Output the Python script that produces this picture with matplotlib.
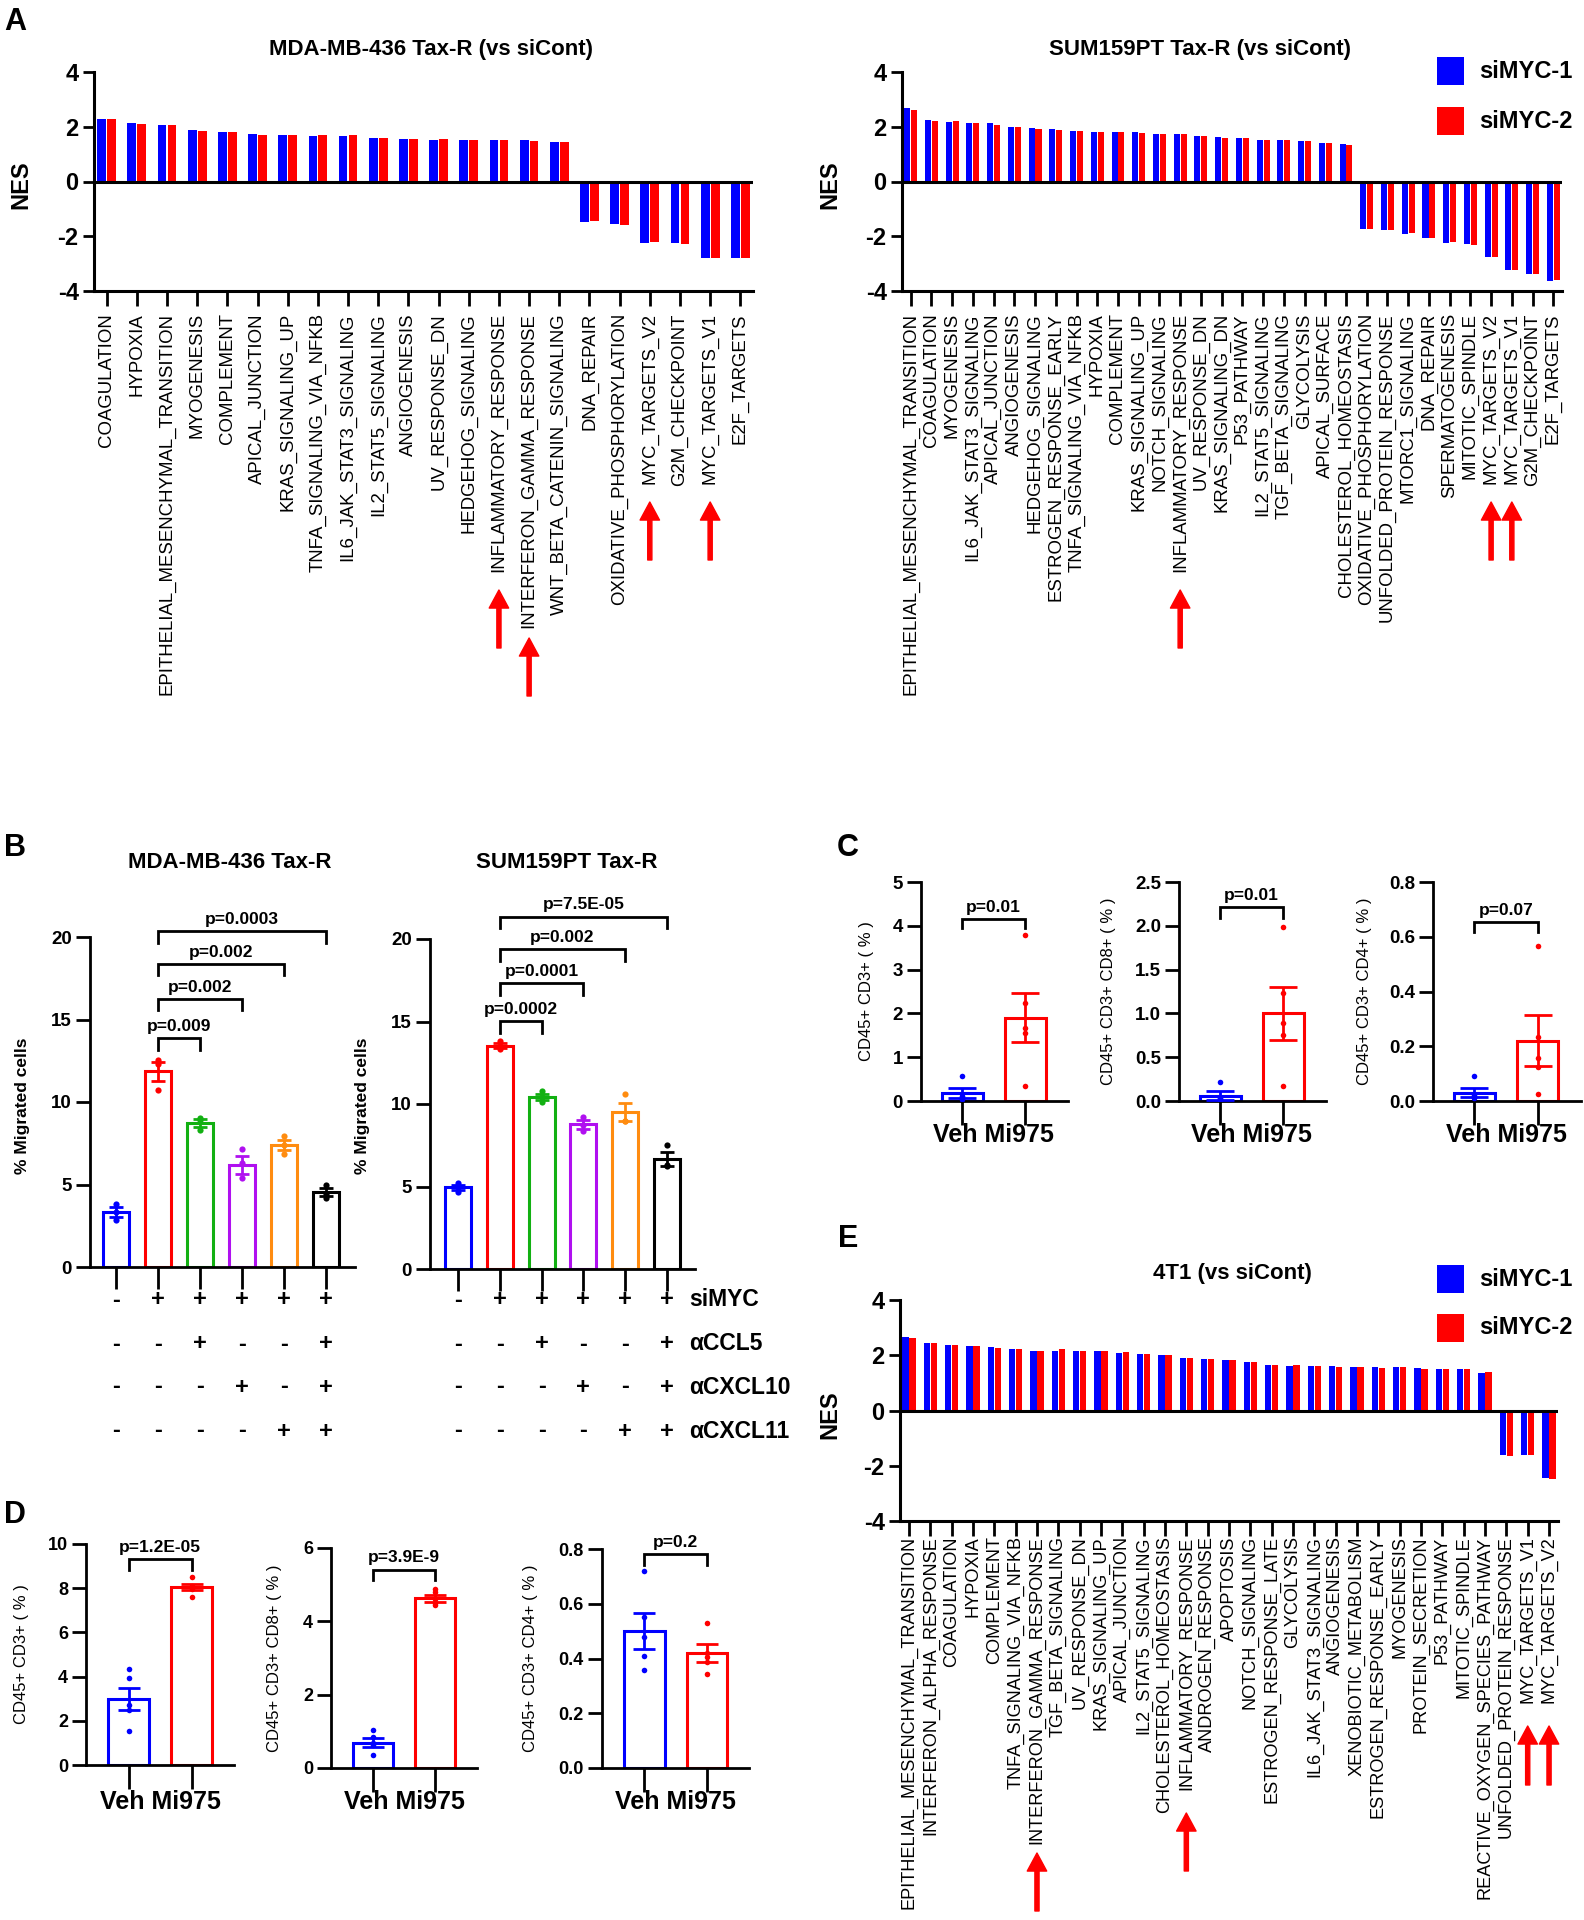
import matplotlib
matplotlib.use('Agg')
import matplotlib.pyplot as plt
import numpy as np
from matplotlib.transforms import blended_transform_factory as btf
from matplotlib.patches import Rectangle
from matplotlib import font_manager

plt.rcParams['font.family'] = ['Liberation Sans', 'DejaVu Sans']
_names = {f.name for f in font_manager.fontManager.ttflist}
NARROW = 'Liberation Sans Narrow' if 'Liberation Sans Narrow' in _names else 'Liberation Sans'

W, H = 1584, 1920
BLUE, RED = '#0000ff', '#ff0000'

# ---------------- Panel A data ----------------
mda_cats = ['COAGULATION', 'HYPOXIA', 'EPITHELIAL_MESENCHYMAL_TRANSITION', 'MYOGENESIS', 'COMPLEMENT',
            'APICAL_JUNCTION', 'KRAS_SIGNALING_UP', 'TNFA_SIGNALING_VIA_NFKB', 'IL6_JAK_STAT3_SIGNALING',
            'IL2_STAT5_SIGNALING', 'ANGIOGENESIS', 'UV_RESPONSE_DN', 'HEDGEHOG_SIGNALING',
            'INFLAMMATORY_RESPONSE', 'INTERFERON_GAMMA_RESPONSE', 'WNT_BETA_CATENIN_SIGNALING',
            'DNA_REPAIR', 'OXIDATIVE_PHOSPHORYLATION', 'MYC_TARGETS_V2', 'G2M_CHECKPOINT',
            'MYC_TARGETS_V1', 'E2F_TARGETS']
mda_si1 = [2.28, 2.12, 2.05, 1.88, 1.80, 1.72, 1.70, 1.67, 1.67, 1.58, 1.55, 1.53, 1.53, 1.50, 1.50, 1.46,
           -1.48, -1.55, -2.24, -2.24, -2.80, -2.80]
mda_si2 = [2.28, 2.10, 2.05, 1.85, 1.80, 1.70, 1.70, 1.70, 1.70, 1.58, 1.55, 1.55, 1.53, 1.50, 1.48, 1.46,
           -1.45, -1.58, -2.20, -2.28, -2.80, -2.80]
mda_arrows = ['INFLAMMATORY_RESPONSE', 'INTERFERON_GAMMA_RESPONSE', 'MYC_TARGETS_V2', 'MYC_TARGETS_V1']

sum_cats = ['EPITHELIAL_MESENCHYMAL_TRANSITION', 'COAGULATION', 'MYOGENESIS', 'IL6_JAK_STAT3_SIGNALING',
            'APICAL_JUNCTION', 'ANGIOGENESIS', 'HEDGEHOG_SIGNALING', 'ESTROGEN_RESPONSE_EARLY',
            'TNFA_SIGNALING_VIA_NFKB', 'HYPOXIA', 'COMPLEMENT', 'KRAS_SIGNALING_UP', 'NOTCH_SIGNALING',
            'INFLAMMATORY_RESPONSE', 'UV_RESPONSE_DN', 'KRAS_SIGNALING_DN', 'P53_PATHWAY',
            'IL2_STAT5_SIGNALING', 'TGF_BETA_SIGNALING', 'GLYCOLYSIS', 'APICAL_SURFACE',
            'CHOLESTEROL_HOMEOSTASIS', 'OXIDATIVE_PHOSPHORYLATION', 'UNFOLDED_PROTEIN_RESPONSE',
            'MTORC1_SIGNALING', 'DNA_REPAIR', 'SPERMATOGENESIS', 'MITOTIC_SPINDLE', 'MYC_TARGETS_V2',
            'MYC_TARGETS_V1', 'G2M_CHECKPOINT', 'E2F_TARGETS']
sum_si1 = [2.67, 2.25, 2.17, 2.12, 2.12, 2.00, 1.95, 1.92, 1.83, 1.82, 1.82, 1.82, 1.72, 1.72, 1.65, 1.62,
           1.58, 1.53, 1.53, 1.47, 1.42, 1.37, -1.75, -1.78, -1.92, -2.08, -2.25, -2.28, -2.75, -3.25,
           -3.37, -3.62]
sum_si2 = [2.63, 2.22, 2.20, 2.13, 2.08, 2.00, 1.92, 1.88, 1.83, 1.82, 1.82, 1.78, 1.72, 1.72, 1.65, 1.58,
           1.58, 1.53, 1.50, 1.47, 1.42, 1.33, -1.75, -1.78, -1.88, -2.08, -2.20, -2.32, -2.75, -3.22,
           -3.37, -3.58]
sum_arrows = ['INFLAMMATORY_RESPONSE', 'MYC_TARGETS_V2', 'MYC_TARGETS_V1']

# ---------------- Panel E data ----------------
t41_cats = ['EPITHELIAL_MESENCHYMAL_TRANSITION', 'INTERFERON_ALPHA_RESPONSE', 'COAGULATION', 'HYPOXIA',
            'COMPLEMENT', 'TNFA_SIGNALING_VIA_NFKB', 'INTERFERON_GAMMA_RESPONSE', 'TGF_BETA_SIGNALING',
            'UV_RESPONSE_DN', 'KRAS_SIGNALING_UP', 'APICAL_JUNCTION', 'IL2_STAT5_SIGNALING',
            'CHOLESTEROL_HOMEOSTASIS', 'INFLAMMATORY_RESPONSE', 'ANDROGEN_RESPONSE', 'APOPTOSIS',
            'NOTCH_SIGNALING', 'ESTROGEN_RESPONSE_LATE', 'GLYCOLYSIS', 'IL6_JAK_STAT3_SIGNALING',
            'ANGIOGENESIS', 'XENOBIOTIC_METABOLISM', 'ESTROGEN_RESPONSE_EARLY', 'MYOGENESIS',
            'PROTEIN_SECRETION', 'P53_PATHWAY', 'MITOTIC_SPINDLE', 'REACTIVE_OXYGEN_SPECIES_PATHWAY',
            'UNFOLDED_PROTEIN_RESPONSE', 'MYC_TARGETS_V1', 'MYC_TARGETS_V2']
t41_si1 = [2.67, 2.45, 2.37, 2.32, 2.29, 2.21, 2.16, 2.16, 2.14, 2.14, 2.08, 2.05, 2.00, 1.89, 1.86, 1.82,
           1.76, 1.65, 1.62, 1.60, 1.60, 1.58, 1.58, 1.57, 1.54, 1.50, 1.49, 1.36, -1.60, -1.60, -2.43]
t41_si2 = [2.64, 2.45, 2.37, 2.32, 2.26, 2.21, 2.16, 2.21, 2.16, 2.14, 2.11, 2.05, 2.00, 1.89, 1.86, 1.81,
           1.74, 1.65, 1.63, 1.60, 1.58, 1.58, 1.54, 1.57, 1.50, 1.52, 1.49, 1.39, -1.63, -1.60, -2.48]
t41_arrows = ['INTERFERON_GAMMA_RESPONSE', 'INFLAMMATORY_RESPONSE', 'MYC_TARGETS_V1', 'MYC_TARGETS_V2']

# ---------------- Panel B data ----------------
mig_colors = ['#0000ff', '#ff0000', '#12b012', '#b010f0', '#ff8c10', '#000000']
mda_mig_mean = [3.35, 11.85, 8.74, 6.20, 7.38, 4.53]
mda_mig_sem = [0.29, 0.58, 0.23, 0.55, 0.31, 0.24]
mda_mig_pts = [[3.84, 3.35, 2.85], [12.57, 12.30, 10.70], [9.03, 8.90, 8.29],
               [7.18, 6.30, 5.40], [7.92, 7.40, 6.86], [5.00, 4.40, 4.20]]
mda_mig_p = [(1, 2, 13.86, 'p=0.009'), (1, 3, 16.26, 'p=0.002'), (1, 4, 18.37, 'p=0.002'),
             (1, 5, 20.35, 'p=0.0003')]
sum_mig_mean = [4.95, 13.54, 10.45, 8.76, 9.50, 6.68]
sum_mig_sem = [0.16, 0.13, 0.18, 0.25, 0.55, 0.44]
sum_mig_pts = [[5.20, 5.00, 4.65], [13.80, 13.50, 13.35], [10.77, 10.45, 10.15],
               [9.20, 8.70, 8.39], [10.59, 8.96, 8.96], [7.50, 6.30, 6.24]]
sum_mig_p = [(1, 2, 15.02, 'p=0.0002'), (1, 3, 17.33, 'p=0.0001'), (1, 4, 19.38, 'p=0.002'),
             (1, 5, 21.36, 'p=7.5E-05')]
cond_labels = ['siMYC', 'αCCL5', 'αCXCL10', 'αCXCL11']
cond_siMYC = ['-', '+', '+', '+', '+', '+']
cond_CCL5 = ['-', '-', '+', '-', '-', '+']
cond_CXCL10 = ['-', '-', '-', '+', '-', '+']
cond_CXCL11 = ['-', '-', '-', '-', '+', '+']

# ---------------- Panels C / D data ----------------
groups = ['Veh', 'Mi975']
c_ylabels = ['CD45+ CD3+ ( % )', 'CD45+ CD3+ CD8+ ( % )', 'CD45+ CD3+ CD4+ ( % )']
c_mean = [[0.18, 1.90], [0.06, 1.00], [0.031, 0.221]]
c_sem = [[0.11, 0.56], [0.05, 0.30], [0.018, 0.094]]
c_pts = [[[0.58, 0.12, 0.08, 0.05, 0.05], [3.78, 2.23, 1.66, 1.56, 0.35]],
         [[0.22, 0.04, 0.03, 0.02, 0.01], [1.99, 1.23, 0.89, 0.75, 0.175]],
         [[0.091, 0.022, 0.016, 0.016, 0.010], [0.567, 0.232, 0.156, 0.126, 0.024]]]
c_yticks = [[0, 1, 2, 3, 4, 5], [0.0, 0.5, 1.0, 1.5, 2.0, 2.5], [0.0, 0.2, 0.4, 0.6, 0.8]]
c_ticklabels = [['0', '1', '2', '3', '4', '5'], ['0.0', '0.5', '1.0', '1.5', '2.0', '2.5'],
                ['0.0', '0.2', '0.4', '0.6', '0.8']]
c_p = [(4.16, 0.22, 'p=0.01'), (2.21, 0.12, 'p=0.01'), (0.654, 0.036, 'p=0.07')]

d_ylabels = c_ylabels
d_mean = [[2.97, 8.05], [0.69, 4.63], [0.50, 0.42]]
d_sem = [[0.50, 0.15], [0.12, 0.10], [0.065, 0.033]]
d_pts = [[[4.34, 3.94, 2.73, 2.47, 1.52], [8.50, 8.10, 8.05, 7.95, 7.60]],
         [[1.05, 0.85, 0.68, 0.62, 0.35], [4.89, 4.80, 4.62, 4.50, 4.45]],
         [[0.72, 0.552, 0.479, 0.409, 0.357], [0.528, 0.42, 0.406, 0.388, 0.345]]]
d_yticks = [[0, 2, 4, 6, 8, 10], [0, 2, 4, 6], [0.0, 0.2, 0.4, 0.6, 0.8]]
d_ticklabels = [['0', '2', '4', '6', '8', '10'], ['0', '2', '4', '6'], ['0.0', '0.2', '0.4', '0.6', '0.8']]
d_p = [(9.32, 0.48, 'p=1.2E-05'), (5.41, 0.28, 'p=3.9E-9'), (0.78, 0.04, 'p=0.2')]

# ---------------- helpers ----------------
fig = plt.figure(figsize=(W / 100, H / 100), dpi=100)


def axpix(x0, y0, x1, y1):
    return fig.add_axes([x0 / W, 1 - y1 / H, (x1 - x0) / W, (y1 - y0) / H])


def fy(y):
    return 1 - y / H


def fx(x):
    return x / W


def ftext(x, y, s, **kw):
    fig.text(fx(x), fy(y), s, **kw)


def style_axes(ax, lw=2.2):
    for s in ['top', 'right']:
        ax.spines[s].set_visible(False)
    for s in ['left', 'bottom']:
        ax.spines[s].set_linewidth(lw)


def nes_panel(ax, cats, v1, v2, arrows, arrow_y, xpad=5, xlen=11, lfs=13.4):
    x = np.arange(len(cats))
    ax.bar(x - 0.165, v1, width=0.29, color=BLUE, zorder=2)
    ax.bar(x + 0.165, v2, width=0.29, color=RED, zorder=2)
    ax.axhline(0, color='black', lw=2.2, zorder=3)
    ax.set_xlim(-0.42, len(cats) - 1 + 0.42)
    ax.set_ylim(-4, 4)
    ax.set_yticks([-4, -2, 0, 2, 4])
    ax.set_yticklabels(['-4', '-2', '0', '2', '4'], fontsize=17, fontweight='bold')
    ax.set_xticks(x)
    ax.set_xticklabels(cats, rotation=90, fontsize=lfs)
    style_axes(ax)
    ax.tick_params(axis='x', length=xlen, width=2, pad=xpad)
    ax.tick_params(axis='y', length=8, width=2, pad=3)
    for name in arrows:
        i = cats.index(name)
        tail, tip = arrow_y[name]
        ax.annotate('', xy=(i, fy(tip)), xytext=(i, fy(tail)),
                    xycoords=('data', 'figure fraction'), textcoords=('data', 'figure fraction'),
                    arrowprops=dict(facecolor=RED, edgecolor=RED, width=3, headwidth=14,
                                    headlength=13, shrink=0), annotation_clip=False)


def bracket(ax, x1, x2, y, leg, text, fs):
    ax.plot([x1, x1, x2, x2], [y - leg, y, y, y - leg], color='black', lw=2, clip_on=False,
            solid_joinstyle='miter')
    ax.annotate(text, xy=((x1 + x2) / 2, y), xytext=(0, 3), textcoords='offset points',
                ha='center', va='bottom', fontsize=fs, fontweight='bold', family=NARROW,
                annotation_clip=False)


def legend(x, y1, y2):
    for y, c, t in [(y1, BLUE, 'siMYC-1'), (y2, RED, 'siMYC-2')]:
        fig.add_artist(Rectangle((fx(x), fy(y + 14)), 27 / W, 28 / H, transform=fig.transFigure,
                                 facecolor=c, edgecolor='none'))
        ftext(x + 42, y, t, fontsize=17, fontweight='bold', va='center', ha='left')


# ---------------- Panel A ----------------
axA1 = axpix(94, 72, 753, 291)
nes_panel(axA1, mda_cats, mda_si1, mda_si2, mda_arrows,
          {'INFLAMMATORY_RESPONSE': (648, 590), 'INTERFERON_GAMMA_RESPONSE': (696, 638),
           'MYC_TARGETS_V2': (560, 502), 'MYC_TARGETS_V1': (560, 502)})
ftext(431, 49, 'MDA-MB-436 Tax-R (vs siCont)', fontsize=16, fontweight='bold', ha='center', va='center')
ftext(21, 185, 'NES', fontsize=17, fontweight='bold', rotation=90, ha='center', va='center')

axA2 = axpix(902, 72, 1562, 291)
nes_panel(axA2, sum_cats, sum_si1, sum_si2, sum_arrows,
          {'INFLAMMATORY_RESPONSE': (648, 590), 'MYC_TARGETS_V2': (560, 502),
           'MYC_TARGETS_V1': (560, 502)})
ftext(1200, 49, 'SUM159PT Tax-R (vs siCont)', fontsize=16, fontweight='bold', ha='center', va='center')
ftext(830, 185, 'NES', fontsize=17, fontweight='bold', rotation=90, ha='center', va='center')
legend(1437, 71, 121)

# ---------------- Panel E ----------------
axE = axpix(900, 1300, 1558, 1521)
nes_panel(axE, t41_cats, t41_si1, t41_si2, t41_arrows,
          {'INTERFERON_GAMMA_RESPONSE': (1911, 1853), 'INFLAMMATORY_RESPONSE': (1871, 1813),
           'MYC_TARGETS_V1': (1785, 1726), 'MYC_TARGETS_V2': (1785, 1726)}, xpad=0, xlen=11, lfs=13.1)
ftext(1232, 1274, '4T1 (vs siCont)', fontsize=16, fontweight='bold', ha='center', va='center')
ftext(830, 1415, 'NES', fontsize=17, fontweight='bold', rotation=90, ha='center', va='center')
legend(1437, 1279, 1328)


# ---------------- Panel B ----------------
def mig_panel(ax, means, sems, pts, pvals, title, title_x, xl, xr):
    x = np.arange(len(means))
    ax.bar(x, means, width=0.62, facecolor='none', edgecolor=mig_colors, linewidth=2.2, zorder=2)
    for i in range(len(means)):
        c = mig_colors[i]
        ax.errorbar(i, means[i], yerr=sems[i], fmt='none', ecolor=c, elinewidth=2, capsize=5,
                    capthick=2, zorder=3)
        ax.scatter([i] * len(pts[i]), pts[i], s=20, color=c, zorder=4, linewidths=0)
    ax.set_xlim(xl, xr)
    ax.set_ylim(0, 20)
    ax.set_yticks([0, 5, 10, 15, 20])
    ax.set_yticklabels(['0', '5', '10', '15', '20'], fontsize=13.5, fontweight='bold', family=NARROW)
    ax.set_xticks(x)
    ax.set_xticklabels([])
    style_axes(ax, 2.0)
    ax.tick_params(axis='x', length=16, width=2)
    ax.tick_params(axis='y', length=10, width=2, pad=3)
    for (a, b, y, t) in pvals:
        bracket(ax, a, b, y, 0.7, t, 12.5)
    tr = btf(ax.transData, fig.transFigure)
    for row, ypix in zip([cond_siMYC, cond_CCL5, cond_CXCL10, cond_CXCL11], [1300, 1344, 1387, 1431]):
        for i, s in enumerate(row):
            ax.text(i, fy(ypix), s, transform=tr, ha='center', va='center', fontsize=17,
                    fontweight='bold')
    ftext(title_x, 863, title, fontsize=16, fontweight='bold', ha='center', va='center')


axB1 = axpix(90, 937, 355, 1267)
mig_panel(axB1, mda_mig_mean, mda_mig_sem, mda_mig_pts, mda_mig_p, 'MDA-MB-436 Tax-R', 230, -0.62, 5.69)
ftext(23, 1106, '% Migrated cells', fontsize=12.5, fontweight='bold', rotation=90, ha='center', va='center')
axB2 = axpix(430, 939, 695, 1269)
mig_panel(axB2, sum_mig_mean, sum_mig_sem, sum_mig_pts, sum_mig_p, 'SUM159PT Tax-R', 567, -0.67, 5.67)
ftext(362, 1106, '% Migrated cells', fontsize=12.5, fontweight='bold', rotation=90, ha='center', va='center')
for lab, ypix in zip(cond_labels, [1300, 1344, 1387, 1431]):
    ftext(689, ypix, lab, fontsize=16.5, fontweight='bold', ha='left', va='center')


# ---------------- Panels C / D ----------------
def tcell_panel(ax, means, sems, pts, yticks, yticklabels, pinfo, ylabel, ylab_x, xlab_y, xl, xr,
                tfs, cap):
    cols = [BLUE, RED]
    x = np.arange(2)
    ax.bar(x, means, width=0.65, facecolor='none', edgecolor=cols, linewidth=2.2, zorder=2)
    for i in range(2):
        ax.errorbar(i, means[i], yerr=sems[i], fmt='none', ecolor=cols[i], elinewidth=2, capsize=cap,
                    capthick=2, zorder=3)
        ax.scatter([i] * len(pts[i]), pts[i], s=16, color=cols[i], zorder=4, linewidths=0)
    ax.set_xlim(xl, xr)
    ax.set_ylim(yticks[0], yticks[-1])
    ax.set_yticks(yticks)
    ax.set_yticklabels(yticklabels, fontsize=tfs, fontweight='bold', family=NARROW)
    ax.set_xticks(x)
    ax.set_xticklabels([])
    style_axes(ax, 2.0)
    ax.tick_params(axis='x', length=17, width=2)
    ax.tick_params(axis='y', length=10, width=2, pad=3)
    y, leg, t = pinfo
    bracket(ax, 0, 1, y, leg, t, 12.5)
    bb = ax.get_position()
    ftext(ylab_x, (1 - (bb.y0 + bb.y1) / 2) * H, ylabel, fontsize=12, rotation=90, ha='center',
          va='center')
    tr = btf(ax.transData, fig.transFigure)
    ax.text(0.5, fy(xlab_y), 'Veh Mi975', transform=tr, ha='center', va='center', fontsize=18,
            fontweight='bold', family=NARROW)


c_boxes = [(921, 882, 1068, 1101), (1179, 882, 1326, 1101), (1433, 882, 1581, 1101)]
c_ylab_x = [866, 1108, 1364]
for k in range(3):
    ax = axpix(*c_boxes[k])
    tcell_panel(ax, c_mean[k], c_sem[k], c_pts[k], c_yticks[k], c_ticklabels[k], c_p[k], c_ylabels[k],
                c_ylab_x[k], 1135, -0.65, 1.68, 13.5, 10)

d_boxes = [(86, 1544, 234, 1765), (331, 1548, 477, 1768), (602, 1549, 749, 1768)]
d_ylab_x = [22, 275, 531]
for k in range(3):
    ax = axpix(*d_boxes[k])
    tcell_panel(ax, d_mean[k], d_sem[k], d_pts[k], d_yticks[k], d_ticklabels[k], d_p[k], d_ylabels[k],
                d_ylab_x[k], 1802, -0.68, 1.675, 13, 8)

# ---------------- Panel letters ----------------
for lab, x, y in [('A', 15, 22), ('B', 15, 848), ('C', 848, 848), ('D', 15, 1515), ('E', 848, 1239)]:
    ftext(x, y, lab, fontsize=22, fontweight='bold', ha='center', va='center')

fig.savefig('out.png', dpi=100)
